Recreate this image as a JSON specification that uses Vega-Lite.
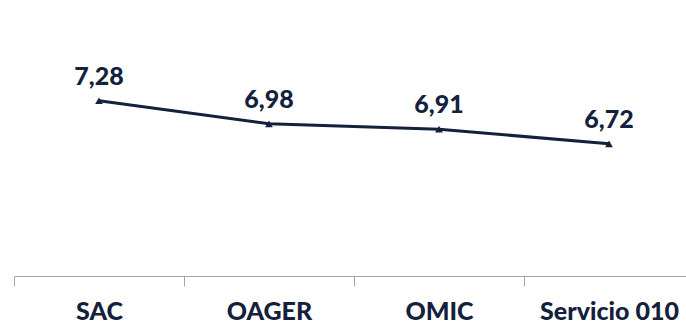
{
  "$schema": "https://vega.github.io/schema/vega-lite/v6.json",
  "width": 680,
  "height": 269,
  "autosize": {"type": "none"},
  "padding": {"left": 14, "top": 7, "right": 0, "bottom": 49},
  "config": {
    "view": {"stroke": null},
    "locale": {"number": {"decimal": ",", "thousands": ".", "grouping": [3], "currency": ["", " €"]}}
  },
  "data": {"values": [
    {"servicio": "SAC", "valor": 7.28},
    {"servicio": "OAGER", "valor": 6.98},
    {"servicio": "OMIC", "valor": 6.91},
    {"servicio": "Servicio 010", "valor": 6.72}
  ]},
  "encoding": {
    "x": {"field": "servicio", "type": "nominal", "sort": null,
      "scale": {"type": "band", "paddingInner": 0, "paddingOuter": 0},
      "axis": {"title": null, "labelAngle": 0, "tickBand": "extent", "domainColor": "#A6A6A6", "tickColor": "#A6A6A6", "tickSize": 10, "labelPadding": 13,
        "labelFont": "Lato", "labelFontWeight": 900, "labelFontSize": 25, "labelColor": "#14213D"}},
    "y": {"field": "valor", "type": "quantitative", "scale": {"domain": [5, 8.5], "zero": false}, "axis": null}
  },
  "layer": [
    {"mark": {"type": "line", "color": "#14213D", "strokeWidth": 3, "point": {"shape": "triangle-up", "size": 60, "color": "#14213D", "filled": true}}},
    {"mark": {"type": "text", "font": "Lato", "fontWeight": 900, "fontSize": 25, "color": "#14213D", "dy": -16, "baseline": "alphabetic"},
      "encoding": {"text": {"field": "valor", "type": "quantitative", "format": ".2f"}}}
  ]
}
